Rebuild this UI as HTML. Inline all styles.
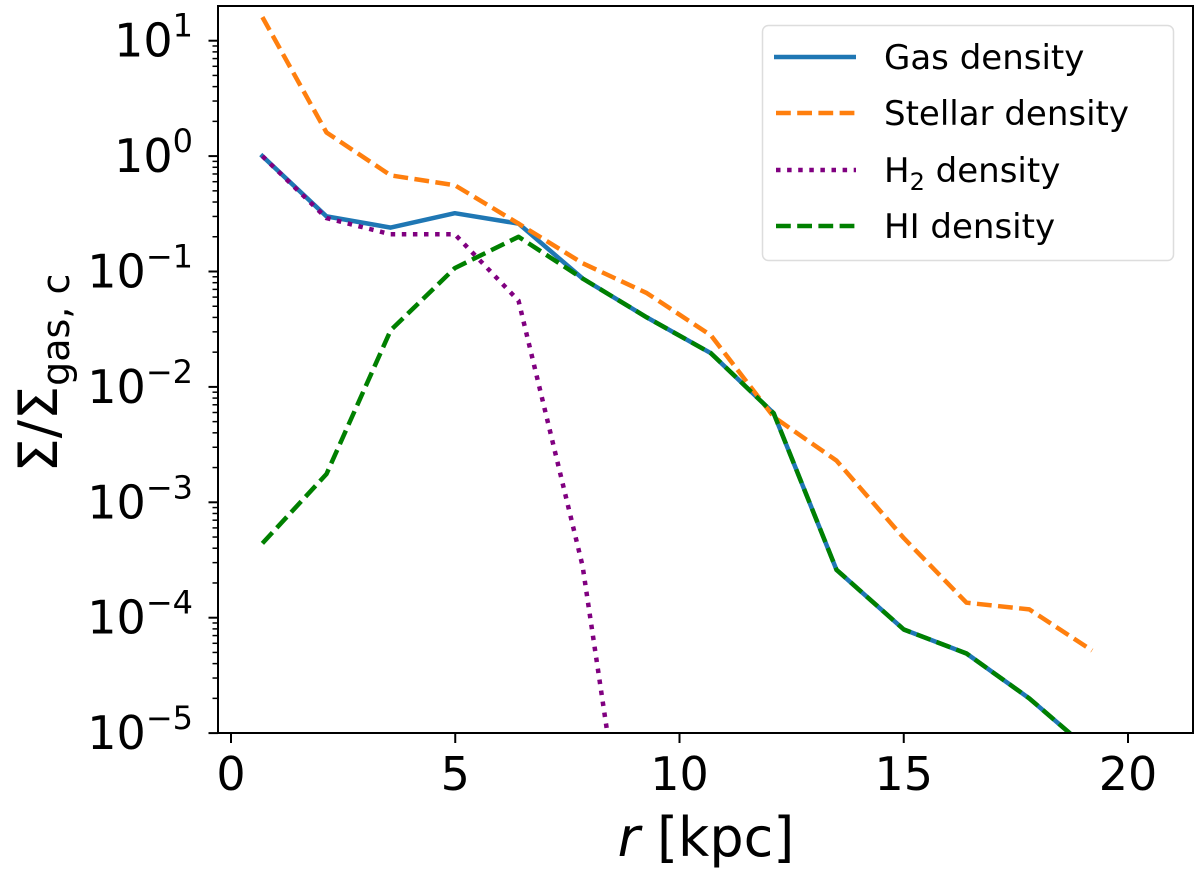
<!DOCTYPE html>
<html><head><meta charset="utf-8"><style>
html,body{margin:0;padding:0;background:#fff;width:1200px;height:875px;overflow:hidden;}
svg{display:block;font-family:"DejaVu Sans","Liberation Sans",sans-serif;}
</style></head><body>
<svg id="chart" width="1200" height="875" viewBox="0 0 1200 875" xmlns="http://www.w3.org/2000/svg">
<g id="plot"></g>
<g id="axes"></g>
<text x="706" y="856" font-size="54" text-anchor="middle"><tspan font-style="italic">r</tspan> [kpc]</text>
<text transform="translate(57,373) rotate(-90)" font-size="54" text-anchor="middle">Σ/Σ<tspan font-size="38" dy="12">gas, c</tspan></text>
<g>
<rect x="762.5" y="25.5" width="411" height="235" rx="6" fill="#fff" fill-opacity="0.8" stroke="#ddd" stroke-width="1.5"/>
<line x1="774" y1="57" x2="856" y2="57" stroke="#1f77b4" stroke-width="4.5"/>
<text x="884" y="69" font-size="34">Gas density</text>
<line x1="776" y1="113" x2="856" y2="113" stroke="#ff7f0e" stroke-width="4.5" stroke-dasharray="14.8 6.4"/>
<text x="884" y="125" font-size="34">Stellar density</text>
<line x1="776" y1="170" x2="856" y2="170" stroke="#800080" stroke-width="4.5" stroke-dasharray="4.5 6.6"/>
<text x="884" y="182" font-size="34">H<tspan font-size="24" dy="8">2</tspan><tspan dy="-8"> density</tspan></text>
<line x1="776" y1="226" x2="856" y2="226" stroke="#008000" stroke-width="4.5" stroke-dasharray="14.8 6.4"/>
<text x="884" y="238" font-size="34">HI density</text>
</g>
</svg>
<script>
const radii = [0.7, 2.13, 3.56, 4.99, 6.41, 7.84, 9.27, 10.7, 12.1, 13.5, 15.0, 16.4, 17.8, 19.2];
const gasDensity = [1.0, 0.30, 0.24, 0.32, 0.26, 0.087, 0.040, 0.0196, 0.0059, 2.6e-4, 7.9e-5, 4.9e-5, 2.0e-5, 6.8e-6];
const stellarDensity = [16, 1.6, 0.68, 0.56, 0.26, 0.118, 0.065, 0.028, 0.0055, 0.0023, 4.9e-4, 1.35e-4, 1.18e-4, 5.2e-5];
const h2Density = [1.0, 0.29, 0.21, 0.21, 0.056, 2.8e-4, 5e-8];
const hiDensity = [4.4e-4, 1.76e-3, 0.031, 0.107, 0.20, 0.087, 0.040, 0.0196, 0.0059, 2.6e-4, 7.9e-5, 4.9e-5, 2.0e-5, 6.8e-6];
const xTicks = [0, 5, 10, 15, 20];
const yTickExps = [-5, -4, -3, -2, -1, 0, 1];

const L = 218, R = 1193, T = 6, B = 733;
const xS = v => 231 + v * 44.85;
const yS = v => 156.1 - Math.log10(v) * 115.4;
const NS = 'http://www.w3.org/2000/svg';
const plot = document.getElementById('plot');
const axes = document.getElementById('axes');
function mk(tag, attrs, parent) {
  const e = document.createElementNS(NS, tag);
  for (const k in attrs) e.setAttribute(k, attrs[k]);
  parent.appendChild(e);
  return e;
}
const defs = mk('defs', {}, plot);
const cp = mk('clipPath', {id: 'clip'}, defs);
mk('rect', {x: L, y: T, width: R - L, height: B - T}, cp);

function series(vals, color, dash, name) {
  const pts = vals.map((v, i) => xS(radii[i]).toFixed(1) + ',' + yS(v).toFixed(1)).join(' ');
  const p = mk('polyline', {points: pts, fill: 'none', stroke: color, 'stroke-width': 4.5, 'stroke-linejoin': 'round', 'clip-path': 'url(#clip)'}, plot);
  if (dash) p.setAttribute('stroke-dasharray', dash);
  else p.setAttribute('stroke-linecap', 'square');
  
  
}
series(gasDensity, '#1f77b4', null, 'gas-density-line');
series(stellarDensity, '#ff7f0e', '14.8 6.4', 'stellar-density-line');
series(h2Density, '#800080', '4.5 6.6', 'h2-density-line');
series(hiDensity, '#008000', '14.8 6.4', 'hi-density-line');

const fr = mk('rect', {x: L, y: T, width: R - L, height: B - T, fill: 'none', stroke: '#000', 'stroke-width': 2}, axes);



xTicks.forEach(t => {
  const x = xS(t);
  const tk = mk('line', {x1: x, y1: B, x2: x, y2: B + 10, stroke: '#000', 'stroke-width': 2}, axes);
  
  
  const tx = mk('text', {x: x, y: 790, 'font-size': 46, 'text-anchor': 'middle'}, axes);
  tx.textContent = t;
  
  
});
yTickExps.forEach(e => {
  const y = yS(Math.pow(10, e));
  const tk = mk('line', {x1: L - 9.5, y1: y, x2: L, y2: y, stroke: '#000', 'stroke-width': 2}, axes);
  
  
  for (let m = 2; m <= 9; m++) {
    const ym = yS(m * Math.pow(10, e));
    if (ym < T) continue;
    const mt = mk('line', {x1: L - 5.5, y1: ym, x2: L, y2: ym, stroke: '#000', 'stroke-width': 1.5}, axes);
    
    
  }
  const tx = mk('text', {x: 193, y: y + 16, 'font-size': 46, 'text-anchor': 'end'}, axes);
  
  
  const b = mk('tspan', {}, tx); b.textContent = '10';
  const s = mk('tspan', {'font-size': 32, dy: -20}, tx);
  s.textContent = (e < 0 ? '\u2212' + (-e) : String(e));
});
</script>
</body></html>
